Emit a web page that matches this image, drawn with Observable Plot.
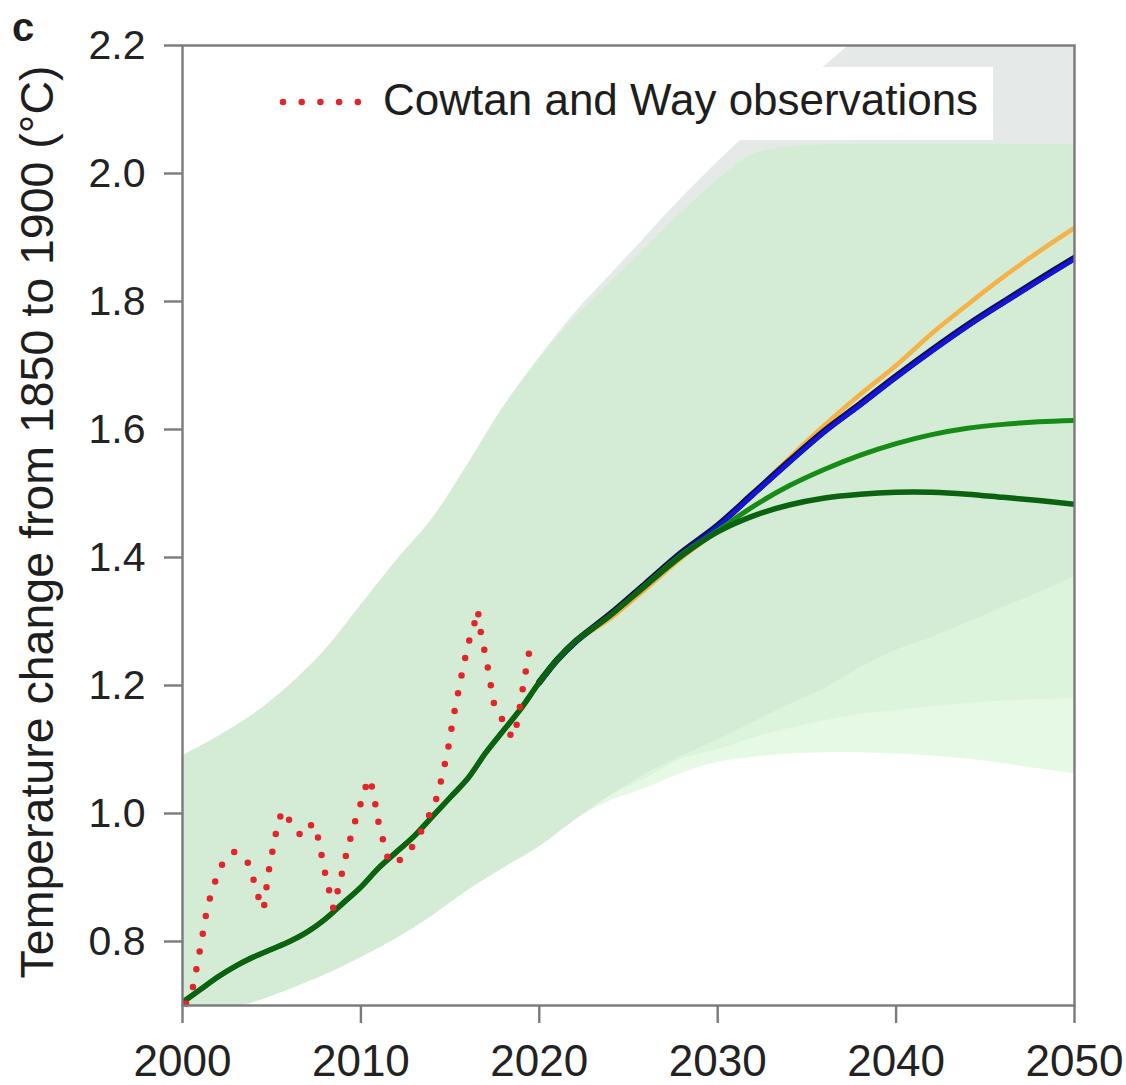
<!DOCTYPE html>
<html>
<head>
<meta charset="utf-8">
<script src="https://cdn.jsdelivr.net/npm/d3@7"></script>
<script src="https://cdn.jsdelivr.net/npm/@observablehq/plot@0.6"></script>
<style>
  body { margin: 0; background: #fff; }
  #wrap { position: relative; width: 1126px; height: 1085px; font-family: 'Liberation Sans', Arial, Helvetica, sans-serif; color: #1e1e1e; overflow: hidden; }
  #chart { position: absolute; left: 0; top: 0; }
  #panel { position: absolute; left: 12px; top: 4px; font-size: 40px; font-weight: bold; line-height: 1.15; }
  #ylab { position: absolute; left: 37px; top: 522px; transform: translate(-50%, -50%) rotate(-90deg); font-size: 46.5px; line-height: 1; white-space: nowrap; }
  #legend { position: absolute; left: 268px; top: 67px; width: 725px; height: 73px; background: #fff; }
  #legend svg { position: absolute; left: 0; top: 0; }
  #legend span { position: absolute; left: 115px; top: 11px; font-size: 44px; line-height: 1; white-space: nowrap; }
</style>
</head>
<body>
<div id="wrap">
  <div id="chart"></div>
  <div id="panel">c</div>
  <div id="ylab">Temperature change from 1850 to 1900 (°C)</div>
  <div id="legend">
    <svg width="120" height="73"><line id="legendSwatch" x1="15" y1="35" x2="90" y2="35"></line></svg>
    <span>Cowtan and Way observations</span>
  </div>
</div>
<script>
// Axis ticks
const xTicks = [2000, 2010, 2020, 2030, 2040, 2050];
const yTicks = [0.8, 1.0, 1.2, 1.4, 1.6, 1.8, 2.0, 2.2];

// Uncertainty ranges (°C), sampled every two years
const bandYears  = [2000, 2002, 2004, 2006, 2008, 2010, 2012, 2014, 2016, 2018, 2020, 2022, 2024,
                    2026, 2028, 2030, 2032, 2034, 2036, 2038, 2040, 2042, 2044, 2046, 2048, 2050];
const greenUpper = [1.09, 1.12, 1.155, 1.20, 1.255, 1.325, 1.395, 1.46, 1.545, 1.635, 1.71, 1.775, 1.83,
                    1.885, 1.94, 1.99, 2.03, 2.042, 2.045, 2.046, 2.046, 2.046, 2.046, 2.046, 2.045, 2.045];
const greenLower = [0.68, 0.69, 0.705, 0.725, 0.748, 0.775, 0.805, 0.84, 0.88, 0.915, 0.948, 0.99, 1.028,
                    1.062, 1.09, 1.115, 1.142, 1.17, 1.195, 1.228, 1.255, 1.275, 1.298, 1.322, 1.345, 1.37];
const midLower   = [0.68, 0.69, 0.705, 0.725, 0.748, 0.775, 0.805, 0.84, 0.88, 0.915, 0.948, 0.99, 1.028,
                    1.055, 1.085, 1.10, 1.118, 1.133, 1.145, 1.155, 1.161, 1.167, 1.172, 1.176, 1.178, 1.18];
const paleLower  = [0.68, 0.69, 0.705, 0.725, 0.748, 0.775, 0.805, 0.84, 0.88, 0.915, 0.948, 0.99, 1.02,
                    1.04, 1.063, 1.08, 1.088, 1.093, 1.095, 1.095, 1.093, 1.09, 1.085, 1.078, 1.07, 1.062];
const grayUpper  = [1.09, 1.12, 1.155, 1.20, 1.255, 1.325, 1.395, 1.46, 1.545, 1.635, 1.712, 1.782, 1.842,
                    1.902, 1.962, 2.018, 2.07, 2.12, 2.168, 2.215, 2.26, 2.30, 2.34, 2.37, 2.40, 2.43];

// Cowtan and Way observations (smoothed)
const obsYears = [2000.2, 2000.6, 2001.0, 2001.4, 2001.9, 2002.3, 2002.9, 2003.6, 2004.0, 2004.3, 2004.55,
                  2004.8, 2005.2, 2005.5, 2005.7, 2006.2, 2006.7, 2007.3, 2007.6, 2008.0, 2008.45, 2008.8,
                  2009.25, 2009.8, 2010.1, 2010.4, 2010.65, 2011.0, 2011.5, 2011.85, 2012.6, 2013.2, 2013.6,
                  2014.1, 2014.4, 2014.85, 2015.2, 2015.6, 2016.0, 2016.3, 2016.55, 2016.7, 2017.1, 2017.45,
                  2017.9, 2018.4, 2018.55, 2018.8, 2019.1, 2019.45];
const obsTemps = [0.703, 0.73, 0.79, 0.855, 0.90, 0.925, 0.94, 0.928, 0.895, 0.865, 0.85,
                  0.905, 0.965, 0.997, 1.005, 0.978, 0.964, 0.985, 0.962, 0.906, 0.852, 0.89,
                  0.945, 1.0, 1.025, 1.055, 1.04, 0.984, 0.931, 0.92, 0.937, 0.961, 0.986,
                  1.011, 1.04, 1.095, 1.153, 1.21, 1.264, 1.29, 1.318, 1.286, 1.23, 1.173,
                  1.148, 1.122, 1.118, 1.147, 1.20, 1.255];

// Central estimate up to 2022, shared by every pathway
const histYears = [2000, 2001, 2002, 2003, 2004, 2005, 2006, 2007, 2008, 2009, 2010, 2011,
                   2012, 2013, 2014, 2015, 2016, 2017, 2018, 2019, 2020, 2021, 2022];
const histTemps = [0.705, 0.725, 0.745, 0.762, 0.776, 0.788, 0.80, 0.815, 0.835, 0.86, 0.885, 0.915,
                   0.94, 0.965, 0.995, 1.025, 1.055, 1.095, 1.13, 1.165, 1.205, 1.24, 1.268];

// Pathways from 2024 onward
const projYears     = [2024, 2026, 2028, 2030, 2032, 2034, 2036, 2038, 2040, 2042, 2044, 2046, 2048, 2050];
const projOrange    = [1.305, 1.352, 1.40, 1.443, 1.50, 1.555, 1.607, 1.655, 1.70, 1.75, 1.795, 1.838, 1.878, 1.915];
const projBlue      = [1.312, 1.36, 1.408, 1.45, 1.50, 1.55, 1.598, 1.64, 1.683, 1.724, 1.763, 1.799, 1.834, 1.868];
const projGreenHigh = [1.31, 1.358, 1.405, 1.442, 1.48, 1.512, 1.538, 1.56, 1.578, 1.592, 1.602, 1.608, 1.612, 1.614];
const projGreenLow  = [1.31, 1.357, 1.403, 1.44, 1.465, 1.482, 1.493, 1.499, 1.502, 1.502, 1.499, 1.494, 1.489, 1.483];

const bands = bandYears.map((year, i) => ({
  year, greenHi: greenUpper[i], greenLo: greenLower[i], midLo: midLower[i], paleLo: paleLower[i], grayHi: grayUpper[i]
}));
const obs = obsYears.map((year, i) => ({year, temp: obsTemps[i]}));
// A pathway joins the shared history (from a given year on) with its own projection
const pathway = (vals, fromYear = 2000) => [
  ...histYears.map((year, i) => ({year, temp: histTemps[i]})).filter(d => d.year >= fromYear),
  ...projYears.map((year, i) => ({year, temp: vals[i]}))
];

const font = "'Liberation Sans', Arial, Helvetica, sans-serif";
const curve = "catmull-rom";

const chart = Plot.plot({
  width: 1126,
  height: 1085,
  marginLeft: 182,
  marginRight: 52,
  marginTop: 45,
  marginBottom: 80,
  style: {fontFamily: font, background: "transparent", color: "#222"},
  x: {domain: [2000, 2050]},
  y: {domain: [0.7, 2.2]},
  marks: [
    Plot.areaY(bands, {x: "year", y1: "greenLo", y2: "grayHi", fill: "#e5e9e7", curve, clip: true}),
    Plot.areaY(bands, {x: "year", y1: "paleLo", y2: "greenHi", fill: "#e5f9e5", curve, clip: true}),
    Plot.areaY(bands, {x: "year", y1: "midLo", y2: "greenHi", fill: "#dcf3dc", curve, clip: true}),
    Plot.areaY(bands, {x: "year", y1: "greenLo", y2: "greenHi", fill: "#d4ecd5", curve, clip: true}),
    Plot.line(pathway(projOrange, 2020), {x: "year", y: "temp", stroke: "#f5b246", strokeWidth: 4.5, curve, clip: true}),
    Plot.line(pathway(projBlue, 2020), {x: "year", y: "temp", stroke: "#10104a", strokeWidth: 6.5, curve, clip: true}),
    Plot.line(pathway(projBlue, 2020), {x: "year", y: "temp", stroke: "#1414dc", strokeWidth: 4.5, dy: 1.2, curve, clip: true}),
    Plot.line(pathway(projGreenHigh), {x: "year", y: "temp", stroke: "#168c16", strokeWidth: 5, curve, clip: true}),
    Plot.line(pathway(projGreenLow), {x: "year", y: "temp", stroke: "#0b620f", strokeWidth: 5.5, curve, clip: true}),
    Plot.line(obs, {x: "year", y: "temp", stroke: "#e2242b", strokeWidth: 6.5, strokeDasharray: "0,18", strokeLinecap: "round", curve: "linear"}),
    Plot.frame({stroke: "#7a7a7a", strokeWidth: 2.4}),
    Plot.axisX({ticks: xTicks, tickFormat: d => String(d), tickSize: 18, tickPadding: 21, fontSize: 44,
                stroke: "#7a7a7a", strokeWidth: 2.4, fill: "#222", label: null}),
    Plot.axisY({ticks: yTicks, tickFormat: d => d.toFixed(1), tickSize: 18, tickPadding: 19, fontSize: 41,
                stroke: "#7a7a7a", strokeWidth: 2.4, fill: "#222", label: null})
  ]
});
document.getElementById("chart").appendChild(chart);

// Legend swatch uses the same dotted style as the observation line
d3.select("#legendSwatch")
  .attr("stroke", "#e2242b")
  .attr("stroke-width", 6.5)
  .attr("stroke-dasharray", "0,18.7")
  .attr("stroke-linecap", "round");
</script>
</body>
</html>
